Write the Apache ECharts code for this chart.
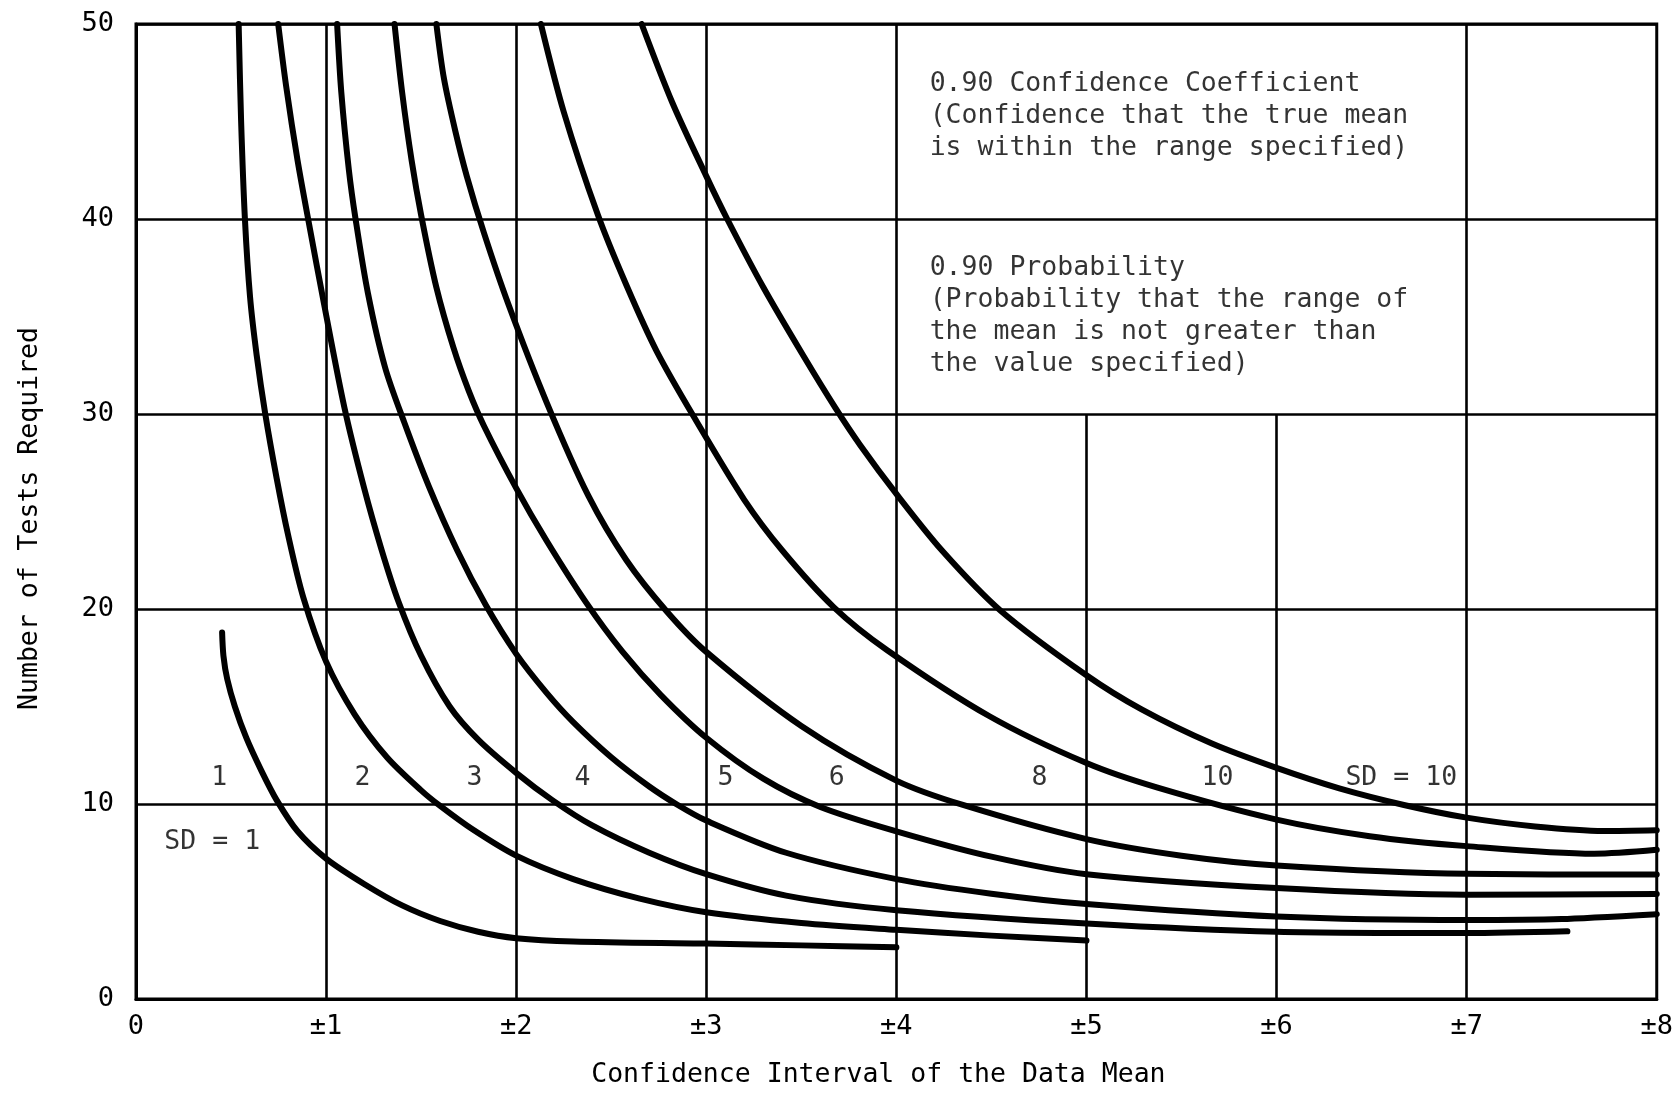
<!DOCTYPE html>
<html>
<head>
<meta charset="utf-8">
<script src="https://cdn.jsdelivr.net/npm/echarts@6/dist/echarts.min.js"></script>
<style>
  html, body { margin: 0; padding: 0; background: #fff; }
  #chart { width: 1676px; height: 1094px; }
</style>
</head>
<body>
<div id="chart"></div>
<script>
// Number of tests required vs. confidence interval, one curve per standard deviation.
const xTickLabels = ['0', '±1', '±2', '±3', '±4', '±5', '±6', '±7', '±8'];
const yTicks = [0, 10, 20, 30, 40, 50];

// [confidence interval, number of tests]
const sd1 = [[0.453,18.8],[0.46,17.6],[0.48,16.4],[0.52,15.0],[0.58,13.4],[0.66,11.7],[0.74,10.2],[0.85,8.6],[1,7.2],[1.2,5.9],[1.4,4.8],[1.6,4.0],[1.8,3.45],[2,3.12],[2.3,2.95],[3,2.84],[3.5,2.75],[4,2.65]];
const sd2 = [[0.54,50],[0.553,45],[0.573,40],[0.6,36],[0.635,33],[0.68,30],[0.74,26.7],[0.8,23.8],[0.88,20.6],[1,17.3],[1.15,14.6],[1.32,12.4],[1.5,10.7],[1.6,9.9],[1.77,8.7],[2,7.35],[2.3,6.15],[2.65,5.15],[3,4.45],[3.5,3.9],[4,3.55],[4.5,3.25],[5,3.0]];
const sd3 = [[0.748,50],[0.79,46.8],[0.85,43],[0.915,39.5],[0.99,35.6],[1.097,30.3],[1.2,26.2],[1.29,23.1],[1.38,20.4],[1.5,17.6],[1.65,15],[1.8,13.3],[2,11.6],[2.19,10.2],[2.4,8.9],[2.7,7.5],[3,6.4],[3.42,5.3],[4,4.55],[5,3.87],[6,3.45],[7,3.38],[7.53,3.47]];
const sd4 = [[1.058,50],[1.08,46.5],[1.12,42.5],[1.155,40],[1.22,36.2],[1.31,32.4],[1.41,29.6],[1.54,26.3],[1.69,23],[1.84,20.2],[2,17.7],[2.16,15.7],[2.3,14.2],[2.5,12.4],[2.7,10.9],[2.85,9.95],[3,9.15],[3.42,7.5],[4,6.15],[4.5,5.4],[5,4.87],[6,4.23],[7,4.05],[7.5,4.1],[8,4.35]];
const sd5 = [[1.36,50],[1.4,46.5],[1.45,43],[1.5,40.2],[1.58,36.5],[1.67,33.4],[1.75,31.2],[1.83,29.4],[2,26.2],[2.16,23.5],[2.37,20.3],[2.56,17.8],[2.76,15.6],[3,13.4],[3.3,11.3],[3.6,9.85],[4,8.6],[4.5,7.3],[5,6.4],[6,5.69],[7,5.35],[8,5.38]];
const sd6 = [[1.58,50],[1.62,47.2],[1.68,44.5],[1.74,42.2],[1.83,39.3],[1.96,35.6],[2.16,30.6],[2.38,25.8],[2.58,22.5],[2.79,19.9],[3,17.8],[3.5,14.0],[4,11.2],[4.35,9.95],[5,8.2],[5.5,7.35],[6,6.85],[7,6.42],[8,6.38]];
const sd8 = [[2.13,50],[2.25,45.5],[2.43,40.2],[2.58,36.6],[2.74,33.2],[2.95,29.6],[3.2,25.6],[3.4,23.0],[3.67,20.1],[3.95,17.9],[4.49,14.5],[5,12.1],[5.37,10.85],[6,9.2],[6.49,8.35],[7,7.84],[7.67,7.45],[8,7.65]];
const sd10 = [[2.66,50],[2.82,46],[3,42.2],[3.11,40],[3.3,36.5],[3.51,33],[3.68,30.3],[3.81,28.4],[4,25.9],[4.24,23.0],[4.55,19.9],[5,16.6],[5.29,14.85],[5.66,13.1],[6,11.85],[6.33,10.8],[6.67,9.95],[7,9.3],[7.36,8.85],[7.72,8.62],[8,8.66]];

// Curve labels along the band just above 10 tests
const curveLabelText = ['1', '2', '3', '4', '5', '6', '8', '10', 'SD = 10'];
const curveLabelX = [0.438, 1.191, 1.781, 2.349, 3.101, 3.686, 4.753, 5.689, 6.656];
const curveLabelY = 11.32;
const sdOneLabel = ['SD = 1', 0.401, 8.04];

// Explanatory notes inside the upper-right cells
const noteText = [
  '0.90 Confidence Coefficient\n(Confidence that the true mean\nis within the range specified)',
  '0.90 Probability\n(Probability that the range of\nthe mean is not greater than\nthe value specified)'
];
const noteX = [4.175, 4.175];
const noteY = [45.27, 35.03];

// Vertical grid lines: some stop at 30 where the notes sit
const fullGridX = [1, 2, 3, 4, 7];
const shortGridX = [5, 6];
const shortGridTop = 30;

const FONT = '"DejaVu Sans Mono", monospace';
const INK = '#000';

const curves = [sd1, sd2, sd3, sd4, sd5, sd6, sd8, sd10];
const curveNames = ['SD 1', 'SD 2', 'SD 3', 'SD 4', 'SD 5', 'SD 6', 'SD 8', 'SD 10'];

const gridLines = fullGridX.map(x => [{ coord: [x, 0] }, { coord: [x, 50] }])
  .concat(shortGridX.map(x => [{ coord: [x, 0] }, { coord: [x, shortGridTop] }]));

const series = [{
  type: 'line',
  name: 'grid',
  data: [[0, 0]],
  showSymbol: false,
  silent: true,
  lineStyle: { opacity: 0 },
  z: 1,
  markLine: {
    silent: true,
    symbol: ['none', 'none'],
    label: { show: false },
    lineStyle: { color: INK, width: 2.6, type: 'solid' },
    emphasis: { disabled: true },
    data: gridLines
  }
}];

curves.forEach((c, i) => {
  series.push({
    type: 'line',
    name: curveNames[i],
    data: c,
    smooth: 0.3,
    showSymbol: false,
    silent: true,
    z: 3,
    lineStyle: { color: INK, width: 6, cap: 'round', join: 'round' }
  });
});

const labelStyle = { show: true, color: INK, fontFamily: FONT, fontSize: 26.5 };

series.push({
  type: 'scatter',
  name: 'curve labels',
  symbolSize: 0,
  silent: true,
  z: 4,
  data: curveLabelX.map((x, i) => [x, curveLabelY, curveLabelText[i]])
    .concat([[sdOneLabel[1], sdOneLabel[2], sdOneLabel[0]]]),
  label: Object.assign({}, labelStyle, {
    position: 'inside',
    formatter: p => p.data[2]
  })
});

series.push({
  type: 'scatter',
  name: 'notes',
  symbolSize: 0,
  silent: true,
  z: 4,
  data: noteText.map((t, i) => [noteX[i], noteY[i], t]),
  label: Object.assign({}, labelStyle, {
    position: 'right',
    distance: 0,
    align: 'left',
    lineHeight: 32,
    formatter: p => p.data[2]
  })
});

const chart = echarts.init(document.getElementById('chart'), null, { renderer: 'canvas' });
chart.setOption({
  animation: false,
  backgroundColor: '#fff',
  grid: {
    left: 136, right: 18, top: 24, bottom: 82.5,
    show: true, borderColor: INK, borderWidth: 3, backgroundColor: 'transparent'
  },
  xAxis: {
    type: 'value', min: 0, max: 8, interval: 1,
    name: 'Confidence Interval of the Data Mean',
    nameLocation: 'middle', nameGap: 63,
    nameTextStyle: { color: INK, fontFamily: FONT, fontSize: 26.5, padding: [0, 36, 0, 0] },
    axisLine: { show: true, lineStyle: { color: INK, width: 3 } },
    axisTick: { show: false },
    splitLine: { show: false },
    axisLabel: {
      color: INK, fontFamily: FONT, fontSize: 27, margin: 14,
      formatter: v => xTickLabels[Math.round(v)]
    }
  },
  yAxis: {
    type: 'value', min: yTicks[0], max: yTicks[yTicks.length - 1], interval: 10,
    name: 'Number of Tests Required',
    nameLocation: 'middle', nameGap: 92,
    nameTextStyle: { color: INK, fontFamily: FONT, fontSize: 26.5, padding: [0, 14, 0, 0] },
    axisLine: { show: true, lineStyle: { color: INK, width: 3 } },
    axisTick: { show: false },
    splitLine: { show: true, lineStyle: { color: INK, width: 2.6 } },
    axisLabel: { color: INK, fontFamily: FONT, fontSize: 27, margin: 22 }
  },
  series: series
});
</script>
</body>
</html>
